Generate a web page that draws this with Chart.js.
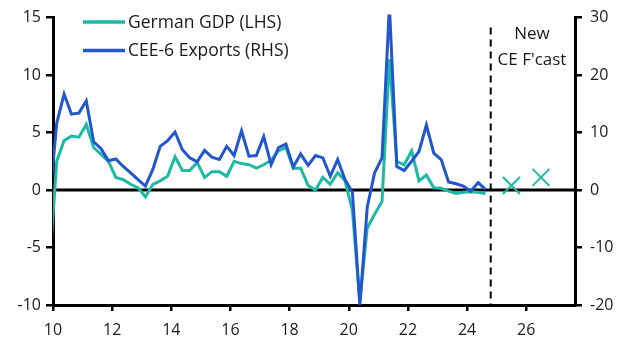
<!DOCTYPE html>
<html>
<head>
<meta charset="utf-8">
<script src="https://cdn.jsdelivr.net/npm/chart.js@4.4.1/dist/chart.umd.min.js"></script>
<style>
  html, body { margin: 0; padding: 0; background: #fff; }
  #wrap { width: 627px; height: 352px; }
</style>
</head>
<body>
<div id="wrap"><canvas id="chart" width="627" height="352"></canvas></div>
<script>
// quarterly y/y % growth, 2009Q4 to 2024Q3, plotted mid-quarter
const startYear = 9.875;
const germanGdp = [
    -7.0, 2.5, 4.3, 4.7, 4.6, 5.7, 3.7, 3.1, 2.5, 1.1,
    0.9, 0.5, 0.2, -0.6, 0.5, 0.8, 1.2, 2.9, 1.7, 1.7,
    2.4, 1.1, 1.6, 1.6, 1.2, 2.5, 2.3, 2.2, 1.9, 2.2,
    2.6, 3.4, 3.7, 1.9, 1.9, 0.4, 0.0, 1.1, 0.5, 1.5,
    0.8, -1.8, -9.8, -3.3, -2.1, -1.0, 11.4, 2.5, 2.2, 3.4,
    0.8, 1.3, 0.2, 0.15, -0.1, -0.3, -0.2, -0.15, -0.2, -0.3
];
const ceeExports = [
    -2.5, 11.6, 16.7, 13.2, 13.4, 15.5, 8.4, 7.2, 5.1, 5.4,
    4.1, 3.0, 1.8, 0.7, 3.6, 7.6, 8.6, 10.1, 7.0, 5.6,
    4.9, 6.9, 5.7, 5.3, 7.6, 6.0, 10.3, 5.9, 6.0, 9.3,
    4.4, 7.4, 8.0, 4.0, 6.3, 4.3, 6.0, 5.6, 2.4, 5.3,
    1.8, -0.4, -20, -3.0, 3.0, 5.6, 32, 4.1, 3.4, 5.0,
    6.7, 11.3, 6.4, 5.3, 1.4, 1.1, 0.7, -0.2, 1.3, 0.1
];
// CE forecasts for German GDP (annual)
const forecastYears = [25.5, 26.5];
const forecastGdp = [0.4, 1.1];
const forecastStart = 24.8;

const xTicks = [10, 12, 14, 16, 18, 20, 22, 24, 26];
const leftTicks = [-10, -5, 0, 5, 10, 15];
const rightTicks = [-20, -10, 0, 10, 20, 30];
const legendLabels = ['German GDP (LHS)', 'CEE-6 Exports (RHS)'];
const forecastNote = ['New', "CE F'cast"];

const teal = '#1cb9a4';
const blue = '#2256cc';
const FONT = "'Open Sans', sans-serif";

const xPos = germanGdp.map((_, i) => startYear + i / 4);
const toPoints = (xs, ys) => ys.map((y, i) => ({ x: xs[i], y: y }));
const lineClip = { left: 0, top: 3, right: 0, bottom: 2 };

const overlay = {
    id: 'overlay',
    beforeDatasetsDraw(chart) {
        const ctx = chart.ctx;
        const area = chart.chartArea;
        const x = chart.scales.x;
        const y = chart.scales.y;
        ctx.save();
        // zero line
        ctx.strokeStyle = '#000';
        ctx.lineWidth = 3;
        ctx.beginPath();
        ctx.moveTo(area.left, y.getPixelForValue(0));
        ctx.lineTo(area.right, y.getPixelForValue(0));
        ctx.stroke();
        // forecast divider
        const xd = x.getPixelForValue(forecastStart);
        ctx.lineWidth = 2;
        ctx.setLineDash([7, 5]);
        ctx.beginPath();
        ctx.moveTo(xd, area.top + 10);
        ctx.lineTo(xd, area.bottom);
        ctx.stroke();
        ctx.restore();
    },
    afterDraw(chart) {
        const ctx = chart.ctx;
        ctx.save();
        // legend
        const colors = [teal, blue];
        legendLabels.forEach((label, i) => {
            const ly = 22 + i * 28.5;
            ctx.strokeStyle = colors[i];
            ctx.lineWidth = 3.5;
            ctx.beginPath();
            ctx.moveTo(83, ly);
            ctx.lineTo(125, ly);
            ctx.stroke();
            ctx.fillStyle = '#1a1a1a';
            ctx.font = '17.5px ' + FONT;
            ctx.textBaseline = 'middle';
            ctx.textAlign = 'left';
            ctx.fillText(label, 128, ly + 1);
        });
        // forecast note
        ctx.font = '17px ' + FONT;
        ctx.textAlign = 'center';
        forecastNote.forEach((t, i) => {
            ctx.fillText(t, 532, 34 + i * 26);
        });
        ctx.restore();
    }
};

const setTicks = list => scale => { scale.ticks = list.map(v => ({ value: v })); };

new Chart(document.getElementById('chart'), {
    type: 'line',
    data: {
        datasets: [
            {
                label: legendLabels[1],
                data: toPoints(xPos, ceeExports),
                yAxisID: 'y2',
                borderColor: blue,
                borderWidth: 3,
                pointRadius: 0,
                tension: 0,
                clip: lineClip,
                order: 0
            },
            {
                label: legendLabels[0],
                data: toPoints(xPos, germanGdp),
                yAxisID: 'y',
                borderColor: teal,
                borderWidth: 3,
                pointRadius: 0,
                tension: 0,
                clip: lineClip,
                order: 1
            },
            {
                label: 'Forecast',
                data: toPoints(forecastYears, forecastGdp),
                yAxisID: 'y',
                showLine: false,
                borderColor: teal,
                backgroundColor: teal,
                pointStyle: 'crossRot',
                pointRadius: 12,
                pointBorderWidth: 2,
                order: 2
            }
        ]
    },
    options: {
        responsive: false,
        animation: false,
        layout: { padding: { top: 15, left: 0, right: 0, bottom: 0 } },
        plugins: {
            legend: { display: false },
            tooltip: { enabled: false }
        },
        scales: {
            x: {
                type: 'linear',
                min: 10,
                max: 27.65,
                afterBuildTicks: setTicks(xTicks),
                afterFit: s => { s.height = 47; },
                grid: { drawOnChartArea: false, drawTicks: true, tickLength: 6, color: '#000', lineWidth: 2.5 },
                border: { display: true, color: '#000', width: 3 },
                ticks: { color: '#1a1a1a', font: { family: FONT, size: 16 }, padding: 10, maxRotation: 0 }
            },
            y: {
                position: 'left',
                min: -10,
                max: 15,
                afterBuildTicks: setTicks(leftTicks),
                afterFit: s => { s.width = 53; },
                grid: { drawOnChartArea: false, drawTicks: true, tickLength: 7, color: '#000', lineWidth: 2.5 },
                border: { display: true, color: '#000', width: 3 },
                ticks: { color: '#1a1a1a', font: { family: FONT, size: 16 }, padding: 5 }
            },
            y2: {
                position: 'right',
                min: -20,
                max: 30,
                afterBuildTicks: setTicks(rightTicks),
                afterFit: s => { s.width = 52; },
                grid: { drawOnChartArea: false, drawTicks: true, tickLength: 7, color: '#000', lineWidth: 2.5 },
                border: { display: true, color: '#000', width: 3 },
                ticks: { color: '#1a1a1a', font: { family: FONT, size: 16 }, padding: 8 }
            }
        }
    },
    plugins: [overlay]
});
</script>
</body>
</html>
